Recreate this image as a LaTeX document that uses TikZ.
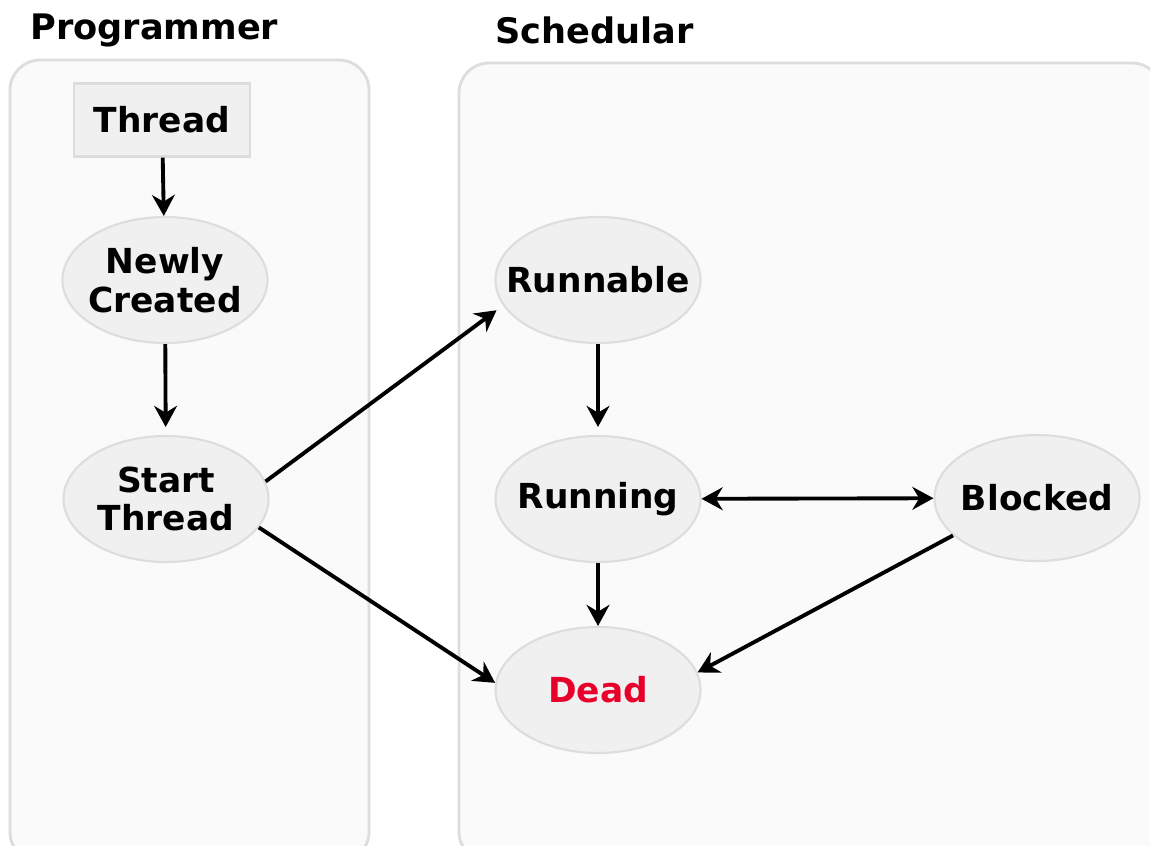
\documentclass[tikz,border=0pt]{standalone}
\usepackage{fontspec}
\setmainfont{DejaVu Sans}
\usetikzlibrary{shapes.geometric, arrows.meta}

\definecolor{panelfill}{HTML}{FAFAFA}
\definecolor{panelline}{HTML}{DDDDDD}
\definecolor{statefill}{HTML}{F0F0F0}
\definecolor{deadred}{HTML}{E8002A}

\begin{document}
\begin{tikzpicture}[
    panel/.style = {draw = panelline, fill = panelfill, line width = 0.8pt, rounded corners = 0.3cm},
    state/.style = {ellipse, draw = panelline, fill = statefill, line width = 0.6pt, minimum width = 2.05cm, minimum height = 1.26cm, inner xsep = -0.4cm, inner ysep = -0.1cm, align = center, font = \bfseries\fontsize{9.8}{11}\selectfont},
    classbox/.style = {rectangle, draw = panelline, fill = statefill, line width = 0.6pt, minimum width = 1.76cm, minimum height = 0.73cm, inner sep = 0pt, font = \bfseries\fontsize{9.8}{11}\selectfont},
    title/.style = {font = \bfseries\fontsize{10}{12}\selectfont, anchor = west},
    trans/.style = {-{Stealth[length = 6pt, width = 6.5pt]}, line width = 1.1pt},
    twoway/.style = {{Stealth[length = 6pt, width = 6.5pt]}-{Stealth[length = 6pt, width = 6.5pt]}, line width = 1.1pt}
]
    \useasboundingbox (0, 0) rectangle (11.5, -8.45);

    % the two lanes
    \draw[panel] (0.10, -0.60) rectangle (3.69, -8.62);
    \draw[panel] (4.59, -0.63) rectangle (11.62, -8.62);
    \node[title] (prog) at (0.18, -0.30) {Programmer};
    \node[title] (sched) at (4.83, -0.30) {Schedular};

    % programmer side
    \node[classbox] (thread) at (1.62, -1.20) {Thread};
    \node[state] (newly) at (1.65, -2.80) {Newly\\Created};
    \node[state] (start) at (1.66, -4.99) {Start\\Thread};

    % schedular side
    \node[state] (runnable) at (5.98, -2.80) {Runnable};
    \node[state] (running) at (5.98, -4.99) {Running};
    \node[state] (blocked) at (10.37, -4.98) {Blocked};
    \node[state, text = deadred] (dead) at (5.98, -6.90) {Dead};

    \draw[trans] (thread) -- (newly);
    \draw[trans, shorten > = 0.08cm] (newly) -- (start);
    \draw[trans, shorten > = 0.08cm] (start.10) -- (runnable.195);
    \draw[trans] (start.343) -- (dead.176);
    \draw[trans, shorten > = 0.08cm] (runnable) -- (running);
    \draw[trans] (running) -- (dead);
    \draw[twoway] (running) -- (blocked);
    \draw[trans] (blocked.204) -- (dead.10);
\end{tikzpicture}
\end{document}
